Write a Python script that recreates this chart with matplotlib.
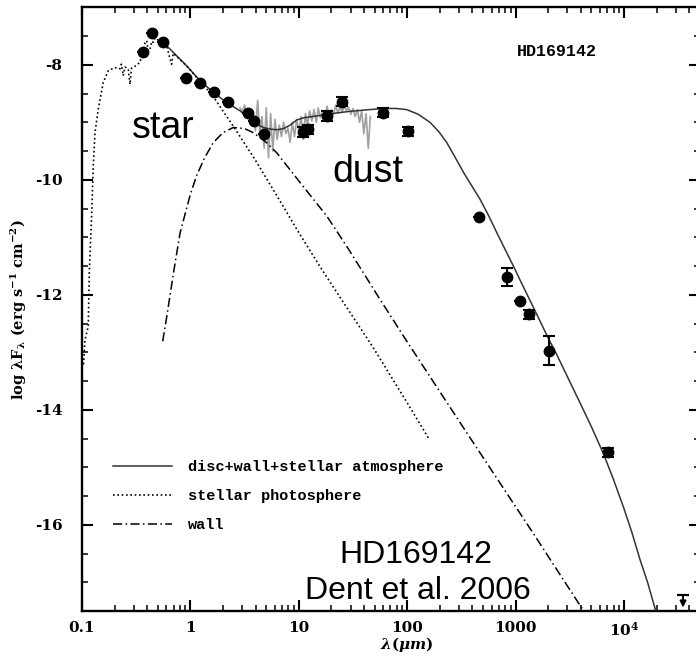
import numpy as np
import matplotlib
matplotlib.use('Agg')
import matplotlib.pyplot as plt
from matplotlib.ticker import FixedLocator, MultipleLocator, FixedFormatter, NullFormatter
from matplotlib.font_manager import FontProperties

plt.rcParams['mathtext.fontset'] = 'dejavuserif'
plt.rcParams['font.family'] = 'DejaVu Serif'
plt.rcParams['font.weight'] = 'bold'
plt.rcParams['axes.labelweight'] = 'bold'
plt.rcParams['axes.unicode_minus'] = False

# photometry: wavelength (micron), log lambda F_lambda, error
phot_lam = [0.363, 0.443, 0.555, 0.905, 1.23, 1.66, 2.22, 3.42, 3.86, 4.81,
            10.9, 12.2, 18.1, 24.9, 60.3, 101, 457, 828, 1100, 1320, 2020, 7080]
phot_flux = [-7.77, -7.44, -7.60, -8.23, -8.31, -8.48, -8.65, -8.84, -8.98, -9.21,
             -9.17, -9.12, -8.89, -8.64, -8.83, -9.16, -10.64, -11.69, -12.11, -12.34, -12.97, -14.74]
phot_err = [0, 0, 0, 0, 0, 0, 0, 0, 0, 0,
            0.08, 0.08, 0.08, 0.08, 0.08, 0.08, 0, 0.16, 0, 0.08, 0.26, 0.08]

# upper limit
ul_lam = [35000]
ul_flux = [-17.22]

# mid-IR spectrum
spec_lam = [2.88, 3.02, 3.16, 3.31, 3.47, 3.63, 3.80, 3.98, 4.17, 4.37,
            4.57, 4.79, 5.01, 5.25, 5.50, 5.75, 6.03, 6.31, 6.61, 6.92,
            7.24, 7.59, 7.94, 8.32, 8.71, 9.12, 9.55, 10.0, 10.5, 11.0,
            11.5, 12.0, 12.6, 13.2, 13.8, 14.5, 15.1, 15.8, 16.6, 17.4,
            18.2, 19.1, 20.0, 20.9, 21.9, 22.9, 24.0, 25.1, 26.3, 27.5,
            28.8, 30.2, 31.6, 33.1, 34.7, 36.3, 38.0, 39.8, 41.7, 43.7, 45.7]
spec_flux = [-8.75, -8.82, -8.70, -8.88, -8.80, -9.00, -8.85, -9.15, -8.62, -9.20,
             -8.90, -9.45, -8.75, -9.62, -8.85, -9.50, -8.95, -9.30, -9.05, -9.25,
             -9.00, -9.20, -9.10, -9.35, -9.00, -9.25, -8.95, -9.15, -8.90, -9.30,
             -8.85, -9.05, -8.80, -8.98, -8.78, -9.00, -8.75, -8.92, -8.80, -8.95,
             -8.72, -8.90, -8.78, -8.86, -8.70, -8.84, -8.74, -8.82, -8.72, -8.80,
             -8.74, -8.86, -8.76, -8.90, -8.78, -9.00, -8.80, -9.20, -8.85, -9.45, -8.90]

# model: disc + wall + stellar atmosphere
total_lam = [0.555, 0.708, 0.925, 1.23, 1.61, 2.16, 2.87, 3.55, 4.17, 4.70,
             5.50, 6.31, 7.24, 8.30, 9.57, 11.2, 14.6, 20.0, 29.6, 44.7,
             60.3, 79.4, 98.9, 126, 162, 195, 231, 275, 330, 398,
             470, 562, 670, 794, 953, 1122, 1358, 1742, 2018, 2393,
             3926, 5012, 6442, 7943, 9863, 11750, 14060, 16600, 19950]
total_flux = [-7.60, -7.80, -8.02, -8.28, -8.47, -8.66, -8.80, -8.94, -9.04, -9.09,
              -9.12, -9.13, -9.11, -9.05, -8.96, -8.92, -8.89, -8.85, -8.81, -8.78,
              -8.76, -8.76, -8.78, -8.86, -9.00, -9.16, -9.35, -9.60, -9.87, -10.12,
              -10.34, -10.62, -10.92, -11.20, -11.50, -11.78, -12.10, -12.52, -12.77, -13.04,
              -13.88, -14.30, -14.76, -15.20, -15.69, -16.12, -16.61, -17.02, -17.55]

# stellar photosphere
star_lam = [0.1033, 0.1067, 0.1143, 0.1167, 0.1227, 0.1271, 0.1318, 0.1413, 0.157, 0.175,
            0.201, 0.224, 0.231, 0.240, 0.249, 0.267, 0.277, 0.286, 0.297, 0.320,
            0.343, 0.354, 0.368, 0.381, 0.395, 0.409, 0.424, 0.440, 0.455, 0.471,
            0.489, 0.525, 0.558, 0.608, 0.649, 0.671, 0.695, 0.925, 1.23, 1.58,
            2.51, 3.98, 6.38, 10.0, 15.8, 25.1, 48.6, 100, 158]
star_flux = [-13.21, -12.78, -12.55, -11.62, -10.63, -9.76, -9.18, -8.77, -8.31, -8.10,
             -8.05, -8.07, -7.99, -8.19, -8.04, -8.07, -8.34, -8.06, -8.05, -8.00,
             -7.96, -7.83, -7.78, -7.62, -7.58, -7.76, -7.73, -7.59, -7.61, -7.53,
             -7.55, -7.61, -7.62, -7.69, -7.90, -7.99, -7.80, -8.02, -8.29, -8.52,
             -9.08, -9.66, -10.30, -10.92, -11.52, -12.10, -12.92, -13.88, -14.50]

# inner rim (wall)
wall_lam = [0.555, 0.603, 0.708, 0.804, 1.0, 1.14, 1.35, 1.63, 2.0, 2.49,
            3.16, 3.80, 5.01, 6.25, 10.0, 18.1, 28.6, 56.1, 100, 354,
            1455, 3980, 4470]
wall_flux = [-12.81, -12.40, -11.55, -10.92, -10.25, -9.93, -9.62, -9.35, -9.18, -9.09,
             -9.11, -9.18, -9.35, -9.53, -10.02, -10.63, -11.20, -12.08, -12.82, -14.40,
             -16.15, -17.42, -17.55]

xticks = [0.1, 1, 10, 100, 1000, 1e4]
xtick_labels = ['0.1', '1', '10', '100', '1000', r'$\mathbf{10^4}$']
yticks = [-8, -10, -12, -14, -16]

fig = plt.figure(figsize=(6.96, 6.56), dpi=100)
ax = fig.add_axes([0.1178, 0.0686, 0.8877, 0.9203])

ax.plot(spec_lam, spec_flux, color='#a0a0a0', lw=1.2, zorder=2)
l1, = ax.plot(total_lam, total_flux, color='#333333', lw=1.1, zorder=3,
              label='disc+wall+stellar atmosphere')
l2, = ax.plot(star_lam, star_flux, color='black', lw=1.2, ls=(0, (1, 1.6)), zorder=3,
              label='stellar photosphere')
l3, = ax.plot(wall_lam, wall_flux, color='black', lw=1.1, ls=(0, (6, 2.2, 1, 2.2)), zorder=3,
              label='wall')

ax.errorbar(phot_lam, phot_flux, yerr=phot_err, fmt='o', color='black', ms=7.5,
            capsize=4.5, capthick=1.5, elinewidth=1.5, zorder=4)

# 1.3 mm upper limit
for xl, yl in zip(ul_lam, ul_flux):
    ax.plot([xl], [yl], marker='_', ms=8, mew=1.6, color='black')
    ax.annotate('', xy=(xl, yl - 0.22), xytext=(xl, yl),
                arrowprops=dict(arrowstyle='-|>', color='black', lw=1.4,
                                mutation_scale=9, shrinkA=0, shrinkB=0))

ax.set_xscale('log')
ax.set_xlim(0.1, 5e4)
ax.set_ylim(-17.5, -7)

ax.xaxis.set_major_locator(FixedLocator(xticks))
ax.xaxis.set_major_formatter(FixedFormatter(xtick_labels))
ax.xaxis.set_minor_formatter(NullFormatter())
ax.yaxis.set_major_locator(FixedLocator(yticks))
ax.yaxis.set_minor_locator(MultipleLocator(0.5))

ax.tick_params(which='both', direction='in', top=True, right=True)
ax.tick_params(which='major', length=8, width=1.5, labelsize=11)
ax.tick_params(which='minor', length=4, width=1.1)
ax.tick_params(axis='y', which='major', pad=14)
ax.tick_params(axis='x', which='major', pad=7)
for s in ax.spines.values():
    s.set_linewidth(1.7)

ax.set_xlabel(r'$\lambda(\mu m)$', fontsize=11, va='top')
ax.xaxis.set_label_coords(0.526, -0.040)
ax.set_ylabel(r'log λF$_{\mathbf{λ}}$ (erg s$^{\mathbf{-1}}$ cm$^{\mathbf{-2}}$)',
              fontsize=10.5, labelpad=4)

mono = FontProperties(family='Liberation Mono', weight='bold', size=11)
ax.legend(handles=[l1, l2, l3], loc='upper left', bbox_to_anchor=(0.050, 0.250),
          frameon=False, borderpad=0, borderaxespad=0, handlelength=3.9,
          handletextpad=1.0, labelspacing=0.98, prop=mono)

ax.text(0.7036, 0.919, 'HD169142', transform=ax.transAxes, va='baseline',
        fontproperties=FontProperties(family='Liberation Mono', weight='bold', size=12))

sans = dict(family='Liberation Sans', weight='normal')
ax.text(0.0804, 0.784, 'star', transform=ax.transAxes, va='baseline', size=27, **sans)
ax.text(0.406, 0.711, 'dust', transform=ax.transAxes, va='baseline', size=27, **sans)
ax.text(0.541, 0.0795, 'HD169142', transform=ax.transAxes, va='baseline', ha='center',
        size=23, **sans)
ax.text(0.543, 0.0199, 'Dent et al. 2006', transform=ax.transAxes, va='baseline', ha='center',
        size=23, **sans)

fig.savefig('out.png', dpi=100)
